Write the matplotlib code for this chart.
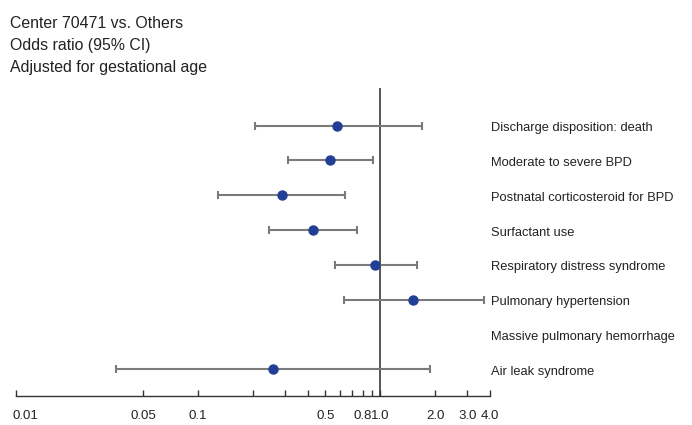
import numpy as np
import matplotlib
matplotlib.use("Agg")
import matplotlib.pyplot as plt
import matplotlib.transforms as mtransforms
from matplotlib.ticker import FixedLocator, FixedFormatter

plt.rcParams['font.family'] = ['Liberation Sans Narrow', 'Liberation Sans', 'DejaVu Sans']

# 数据
outcomes = ["Discharge disposition: death", "Moderate to severe BPD",
            "Postnatal corticosteroid for BPD", "Surfactant use",
            "Respiratory distress syndrome", "Pulmonary hypertension",
            "Massive pulmonary hemorrhage", "Air leak syndrome"]
odds = [0.58, 0.53, 0.29, 0.43, 0.935, 1.52, np.nan, 0.257]
ci_low = [0.206, 0.31, 0.129, 0.245, 0.566, 0.629, np.nan, 0.0353]
ci_high = [1.69, 0.907, 0.642, 0.75, 1.59, 3.73, np.nan, 1.88]

tick_vals = [0.01, 0.05, 0.1, 0.2, 0.3, 0.4, 0.5, 0.6, 0.7, 0.8, 0.9, 1.0, 2.0, 3.0, 4.0]
tick_text = ["0.01", "0.05", "0.1", "", "", "", "0.5", "", "", "0.8", "", "1.0", "2.0", "3.0", "4.0"]

title_lines = ["Center 70471 vs. Others", "Odds ratio (95% CI)", "Adjusted for gestational age"]

fig = plt.figure(figsize=(6.92, 4.25), dpi=100)
ax = fig.add_axes([15.7 / 692, (425 - 395.7) / 425, (490 - 15.7) / 692, 308 / 425])

y = np.arange(len(outcomes))
odds = np.array(odds)
lo = np.array(ci_low)
hi = np.array(ci_high)
ok = ~np.isnan(odds)

ax.errorbar(odds[ok], y[ok], xerr=[odds[ok] - lo[ok], hi[ok] - odds[ok]],
            fmt='none', ecolor='#7a7a7a', elinewidth=1.5, capsize=3, capthick=1.5, zorder=2)
ax.plot(odds[ok], y[ok], 'o', color='#213f95', markersize=6.5, zorder=3)
ax.axvline(1.0, color='#3a3a3a', lw=1.2, zorder=1)

ax.set_xscale('log')
ax.set_xlim(0.01, 4.0)
ax.set_ylim(7.759, -1.092)

for s in ['top', 'right', 'left']:
    ax.spines[s].set_visible(False)
ax.spines['bottom'].set_color('#333333')
ax.spines['bottom'].set_linewidth(1.0)
ax.set_yticks([])
ax.xaxis.set_major_locator(FixedLocator(tick_vals))
ax.xaxis.set_major_formatter(FixedFormatter(tick_text))
ax.xaxis.set_minor_locator(FixedLocator([]))
ax.tick_params(axis='x', direction='in', length=4.5, width=1.0, color='#333333',
               labelsize=9.5, labelcolor='#222222', pad=10)

# 0.01 标签靠左
first = ax.get_xticklabels()[0]
first.set_ha('left')
first.set_transform(first.get_transform() +
                    mtransforms.ScaledTranslation(-3 / 100, 0, fig.dpi_scale_trans))

# 右侧标签
for i, name in enumerate(outcomes):
    fig.text(491 / 692, 1 - (125.7 + 34.8 * i + 5.5) / 425, name, ha='left', va='baseline',
             fontsize=9.3, color='#222222')

# 左上标题
for i, line in enumerate(title_lines):
    fig.text(10 / 692, 1 - (28.3 + 21.7 * i) / 425, line, ha='left', va='baseline',
             fontsize=11.4, color='#222222')

fig.savefig("out.png", dpi=100)
